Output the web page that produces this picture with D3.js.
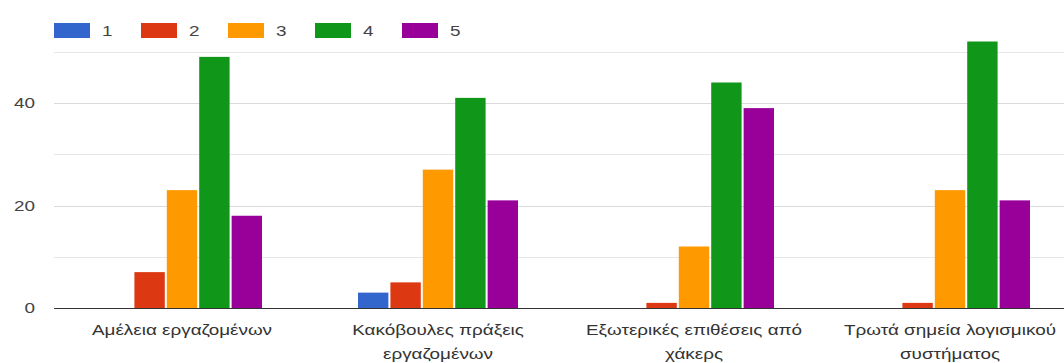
<!DOCTYPE html>
<html>
<head>
<meta charset="utf-8">
<script src="https://cdn.jsdelivr.net/npm/d3@7"></script>
<style>
  html, body { margin: 0; padding: 0; background: #fff; }
  svg { display: block; font-family: Arial, "Liberation Sans", sans-serif; }
</style>
</head>
<body>
<svg id="chart" width="1064" height="363"></svg>
<script>
// Responses per category, grouped by rating 1–5
const categories = [
  ["Αμέλεια εργαζομένων"],
  ["Κακόβουλες πράξεις", "εργαζομένων"],
  ["Εξωτερικές επιθέσεις από", "χάκερς"],
  ["Τρωτά σημεία λογισμικού", "συστήματος"]
];
const seriesNames = ["1", "2", "3", "4", "5"];
const seriesColors = ["#3366cc", "#dc3912", "#ff9900", "#109618", "#990099"];
const values1 = [0, 3, 0, 0];
const values2 = [7, 5, 1, 1];
const values3 = [23, 27, 12, 23];
const values4 = [49, 41, 44, 52];
const values5 = [18, 21, 39, 21];
const gridTicks = [0, 10, 20, 30, 40, 50];
const labelTicks = [0, 20, 40];

const series = [values1, values2, values3, values4, values5];

const svg = d3.select("#chart");
const plotLeft = 54, plotRight = 1078, plotBottom = 308, plotTop = 51.75;
const fontSize = 15;
const stretch = 1.26; // horizontal text widening

const x = d3.scaleBand()
  .domain(d3.range(categories.length))
  .range([plotLeft, plotRight])
  .paddingInner(0.375)
  .paddingOuter(0.1875);

const xInner = d3.scaleBand()
  .domain(d3.range(seriesNames.length))
  .range([0, x.bandwidth()])
  .paddingInner(0.0625);

const y = d3.scaleLinear().domain([0, 50]).range([plotBottom, plotTop]);

// gridlines
svg.append("g")
  .selectAll("line")
  .data(gridTicks.filter(t => t > 0))
  .join("line")
  .attr("x1", plotLeft).attr("x2", 1064)
  .attr("y1", d => Math.round(y(d)) + 0.5).attr("y2", d => Math.round(y(d)) + 0.5)
  .attr("stroke", d => labelTicks.includes(d) ? "#dadada" : "#e6e6e6")
  .attr("stroke-width", 1);

// y tick labels
svg.append("g")
  .selectAll("text")
  .data(labelTicks)
  .join("text")
  .attr("transform", d => `translate(35,${y(d)}) scale(${stretch},1)`)
  .attr("dy", "0.36em")
  .attr("text-anchor", "end")
  .attr("font-size", fontSize)
  .attr("fill", "#444")
  .text(d => d);

// bars
const groups = svg.append("g")
  .selectAll("g")
  .data(categories.map((c, i) => i))
  .join("g")
  .attr("transform", i => `translate(${x(i)},0)`);

groups.selectAll("rect")
  .data(i => series.map((s, k) => ({ k, v: s[i] })))
  .join("rect")
  .attr("x", d => xInner(d.k))
  .attr("width", xInner.bandwidth())
  .attr("y", d => y(d.v))
  .attr("height", d => y(0) - y(d.v))
  .attr("fill", d => seriesColors[d.k]);

// baseline
svg.append("line")
  .attr("x1", plotLeft).attr("x2", 1064)
  .attr("y1", plotBottom + 0.5).attr("y2", plotBottom + 0.5)
  .attr("stroke", "#333").attr("stroke-width", 1);

// category labels (wrapped onto two lines where needed)
const catText = svg.append("g")
  .selectAll("text")
  .data(categories)
  .join("text")
  .attr("transform", (d, i) => `translate(${x(i) + x.bandwidth() / 2},335) scale(${stretch},1)`)
  .attr("text-anchor", "middle")
  .attr("font-size", fontSize)
  .attr("fill", "#333");
catText.selectAll("tspan")
  .data(d => d)
  .join("tspan")
  .attr("x", 0)
  .attr("dy", (d, j) => j === 0 ? 0 : 24)
  .text(d => d);

// legend
const legend = svg.append("g")
  .selectAll("g")
  .data(seriesNames)
  .join("g")
  .attr("transform", (d, i) => `translate(${54 + i * 87},23)`);
legend.append("rect")
  .attr("width", 36).attr("height", 15)
  .attr("fill", (d, i) => seriesColors[i]);
legend.append("text")
  .attr("transform", `translate(48,7.5) scale(${stretch},1)`)
  .attr("dy", "0.36em")
  .attr("font-size", fontSize)
  .attr("fill", "#444")
  .text(d => d);
</script>
</body>
</html>
